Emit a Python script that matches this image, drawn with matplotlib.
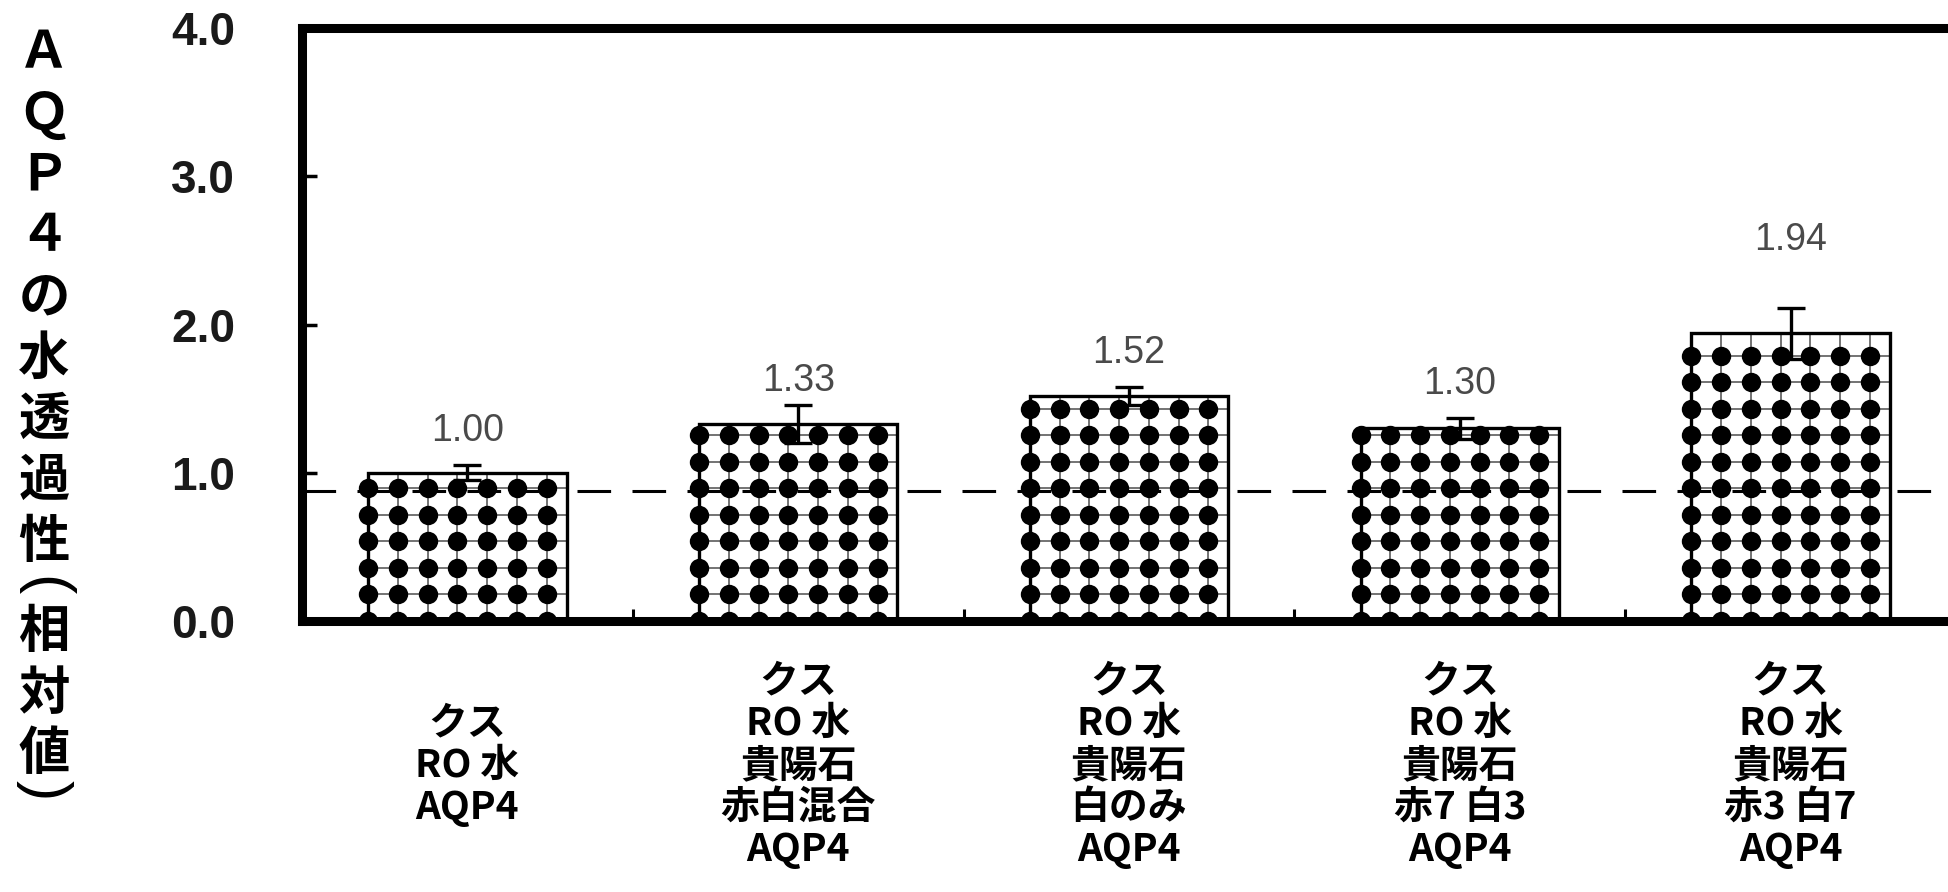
import numpy as np
import matplotlib
matplotlib.use('Agg')
from matplotlib import pyplot as plt
from matplotlib.ticker import FixedLocator

# AQP4 water permeability, relative to the control (クス / RO水)
groups = ['クス\nRO 水\nAQP4',
          'クス\nRO 水\n貴陽石\n赤白混合\nAQP4',
          'クス\nRO 水\n貴陽石\n白のみ\nAQP4',
          'クス\nRO 水\n貴陽石\n赤7 白3\nAQP4',
          'クス\nRO 水\n貴陽石\n赤3 白7\nAQP4']
values = [1.00, 1.33, 1.52, 1.30, 1.94]
errors = [0.05, 0.13, 0.06, 0.07, 0.17]
reference_level = 0.88
yticks = [0.0, 1.0, 2.0, 3.0, 4.0]
ylabel_chars = ['Ａ', 'Ｑ', 'Ｐ', '４', 'の', '水', '透', '過', '性',
                '(', '相', '対', '値', ')']

# where the value labels sit (data units)
label_pos = [1.28, 1.62, 1.81, 1.60, 2.57]

plt.rcParams['font.family'] = ['Liberation Sans', 'Noto Sans CJK JP']

W, H = 1949, 892
fig = plt.figure(figsize=(W / 100, H / 100), dpi=100)
# axes runs a little past the right edge of the canvas
ax = fig.add_axes([302 / W, (H - 621) / H, 1654 / W, 593 / H])

x = np.arange(len(values))
bar_w = 0.6

fills = ax.bar(x, values, bar_w, color='white', edgecolor='none', zorder=1)

# dotted fill: a grid of black dots joined by faint lines, clipped to each bar
dot_dx, dot_dy = 0.09, 0.179
for rect in fills:
    x0, w, h = rect.get_x(), rect.get_width(), rect.get_height()
    cols = np.arange(x0, x0 + w + 1e-9, dot_dx)
    rows = np.arange(0, h + 1e-9, dot_dy)
    ax.hlines(rows, x0, x0 + w, colors='0.45', lw=1.4, zorder=2, clip_path=rect)
    ax.vlines(cols, 0, h, colors='0.45', lw=1.4, zorder=2, clip_path=rect)
    gx, gy = np.meshgrid(cols, rows)
    ax.scatter(gx.ravel(), gy.ravel(), s=195, c='black', linewidths=0,
               zorder=2, clip_path=rect)

ax.bar(x, values, bar_w, fill=False, edgecolor='black', lw=2.4, zorder=3)

ax.axhline(reference_level, color='black', lw=2.2, dashes=(11, 7), zorder=4)

ax.errorbar(x, values, yerr=errors, fmt='none', ecolor='black',
            elinewidth=2.4, capsize=10, capthick=2.4, zorder=5)

for xi, v, ly in zip(x, values, label_pos):
    ax.text(xi, ly, '%.2f' % v, ha='center', va='center', fontsize=27,
            color='#4a4a4a', zorder=6)

ax.set_xlim(-0.5, 4.5)
ax.set_ylim(0, 4.0)

for side in ['left', 'bottom', 'top']:
    ax.spines[side].set_linewidth(6.5)
ax.spines['right'].set_visible(False)

ax.set_yticks(yticks)
ax.set_yticklabels(['%.1f' % t for t in yticks], fontsize=33,
                   fontweight='bold', color='#1a1a1a')
ax.tick_params(axis='y', direction='in', length=11, width=2.5, pad=48)

ax.set_xticks(x)
ax.set_xticklabels(groups, fontsize=28, linespacing=1.1, fontweight='bold',
                   family=['Noto Sans CJK JP'])
for lab in ax.get_xticklabels():
    lab.set_verticalalignment('center')
ax.tick_params(axis='x', which='major', length=0, pad=104)
ax.xaxis.set_minor_locator(FixedLocator(x[:-1] + 0.5))
ax.tick_params(axis='x', which='minor', direction='in', length=9, width=2.2)

# stacked vertical axis title, one character per cell;
# the parentheses are turned on their side and take a half cell
cy = 53
for ch in ylabel_chars:
    if ch == '(':
        cy += 45 - 61
        fig.text(44 / W, 1 - cy / H, ch, ha='center', va='center',
                 fontsize=44, rotation=-90, family=['Liberation Sans'])
        cy += 46
        continue
    if ch == ')':
        fig.text(44 / W, 1 - cy / H, ch, ha='center', va='center',
                 fontsize=44, rotation=-90, family=['Liberation Sans'])
        continue
    fig.text(44 / W, 1 - cy / H, ch, ha='center', va='center', fontsize=37,
             fontweight='bold', family=['Noto Sans CJK JP'])
    cy += 36 if ch == '値' else 61

fig.savefig('out.png', dpi=100)
